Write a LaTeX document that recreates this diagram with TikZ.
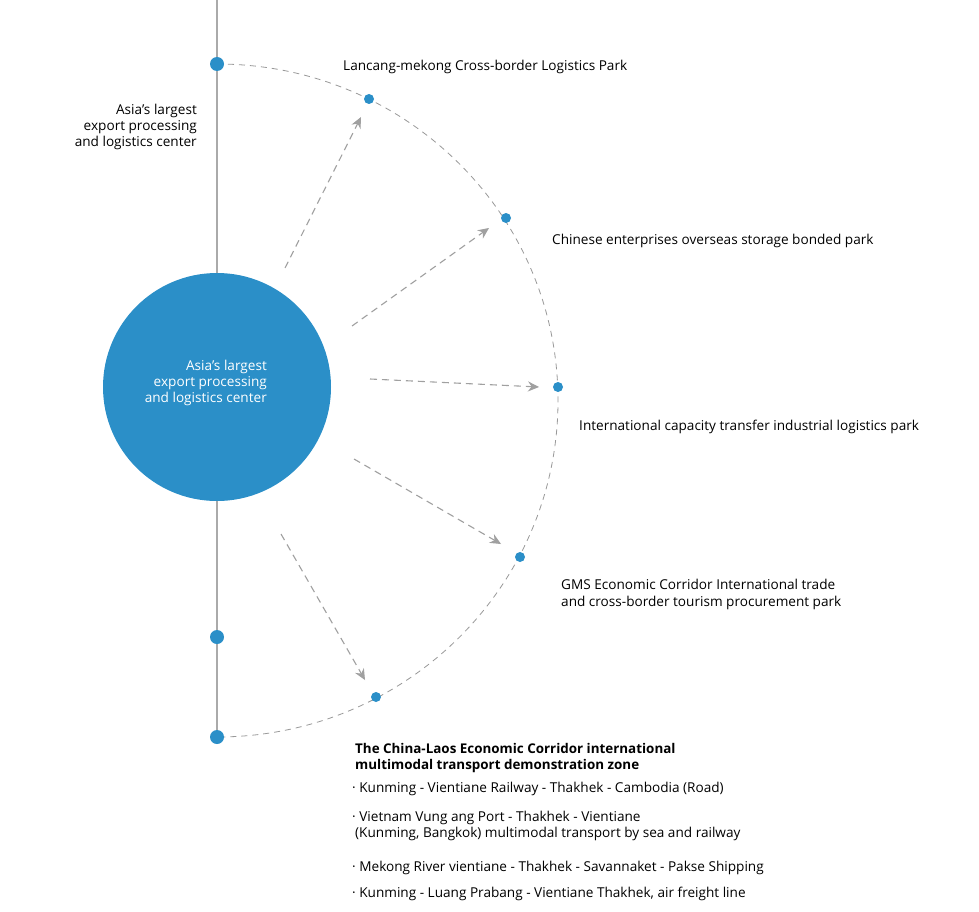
\documentclass[tikz,border=0pt]{standalone}
\usepackage{fontspec}
\setmainfont{Open Sans}
\usetikzlibrary{arrows.meta}
\definecolor{cblue}{HTML}{2B8FC8}
\definecolor{lgray}{HTML}{AAAAAA}
\definecolor{agray}{HTML}{A0A0A0}
\begin{document}
\begin{tikzpicture}[x=1pt,y=-1pt,
  lbl/.style={font=\fontsize{13.6}{16.2}\selectfont, text=black, inner sep=0pt},
  bigdot/.style={circle, fill=cblue, minimum size=14pt, inner sep=0pt},
  smalldot/.style={circle, fill=cblue, minimum size=10pt, inner sep=0pt},
  flow/.style={draw=agray, line width=1.1pt, dash pattern=on 7pt off 5pt, -{Stealth[length=11pt,width=10pt]}}
]
\useasboundingbox (0,0) rectangle (979,912);
\fill[white] (0,0) rectangle (979,912);
% vertical line
\coordinate (vtop) at (217,0);
\coordinate (vbot) at (217,737);
\draw[lgray, line width=1.5pt] (vtop) -- (vbot);
% arc
\draw[gray!80, line width=0.8pt, dash pattern=on 6pt off 5pt] (217,64) arc[start angle=-90, end angle=90, x radius=341, y radius=336.5];
% big circle
\node[circle, fill=cblue, minimum size=228pt, inner sep=0pt] (hub) at (217,387) {};
\node[align=right, anchor=east, text=white, font=\fontsize{13.6}{16.2}\selectfont, inner sep=0pt] (hubtxt) at (267,383) {Asia's largest\\export processing\\and logistics center};
% dots on vertical line
\node[bigdot] (d0) at (217,64) {};
\node[bigdot] (d6) at (217,637) {};
\node[bigdot] (d7) at (217,737) {};
% dots on arc
\node[smalldot] (p1) at (369,99) {};
\node[smalldot] (p2) at (506,218) {};
\node[smalldot] (p3) at (558,387) {};
\node[smalldot] (p4) at (520,557) {};
\node[smalldot] (p5) at (376,697) {};
% arrows
\coordinate (s1) at (285,268); \coordinate (t1) at (361,117);
\coordinate (s2) at (352,326); \coordinate (t2) at (489,228);
\coordinate (s3) at (370,379); \coordinate (t3) at (539,387);
\coordinate (s4) at (354,459); \coordinate (t4) at (501,544);
\coordinate (s5) at (281,534); \coordinate (t5) at (365,680);
\draw[flow] (s1) -- (t1);
\draw[flow] (s2) -- (t2);
\draw[flow] (s3) -- (t3);
\draw[flow] (s4) -- (t4);
\draw[flow] (s5) -- (t5);
% labels
\node[lbl, anchor=west] (l1) at (343,67) {Lancang-mekong Cross-border Logistics Park};
\node[lbl, anchor=east, align=right] (l0) at (197,127) {Asia's largest\\export processing\\and logistics center};
\node[lbl, anchor=west] (l2) at (552,241) {Chinese enterprises overseas storage bonded park};
\node[lbl, anchor=west] (l3) at (579,427) {International capacity transfer industrial logistics park};
\node[lbl, anchor=west, align=left, font=\fontsize{13.6}{17}\selectfont] (l4) at (561,594) {GMS Economic Corridor International trade\\and cross-border tourism procurement park};
\node[lbl, anchor=west, align=left, font=\fontsize{13.4}{16.2}\selectfont\bfseries] (l5) at (355,758) {The China-Laos Economic Corridor international\\multimodal transport demonstration zone};
\node[lbl, anchor=west] (b1) at (352,789) {· Kunming - Vientiane Railway - Thakhek - Cambodia (Road)};
\node[lbl, anchor=west, align=left] (b2) at (352,826) {· Vietnam Vung ang Port - Thakhek - Vientiane\\\hspace*{3pt}(Kunming, Bangkok) multimodal transport by sea and railway};
\node[lbl, anchor=west] (b3) at (352,868) {· Mekong River vientiane - Thakhek - Savannaket - Pakse Shipping};
\node[lbl, anchor=west] (b4) at (352,894) {· Kunming - Luang Prabang - Vientiane Thakhek, air freight line};
\end{tikzpicture}
\end{document}
